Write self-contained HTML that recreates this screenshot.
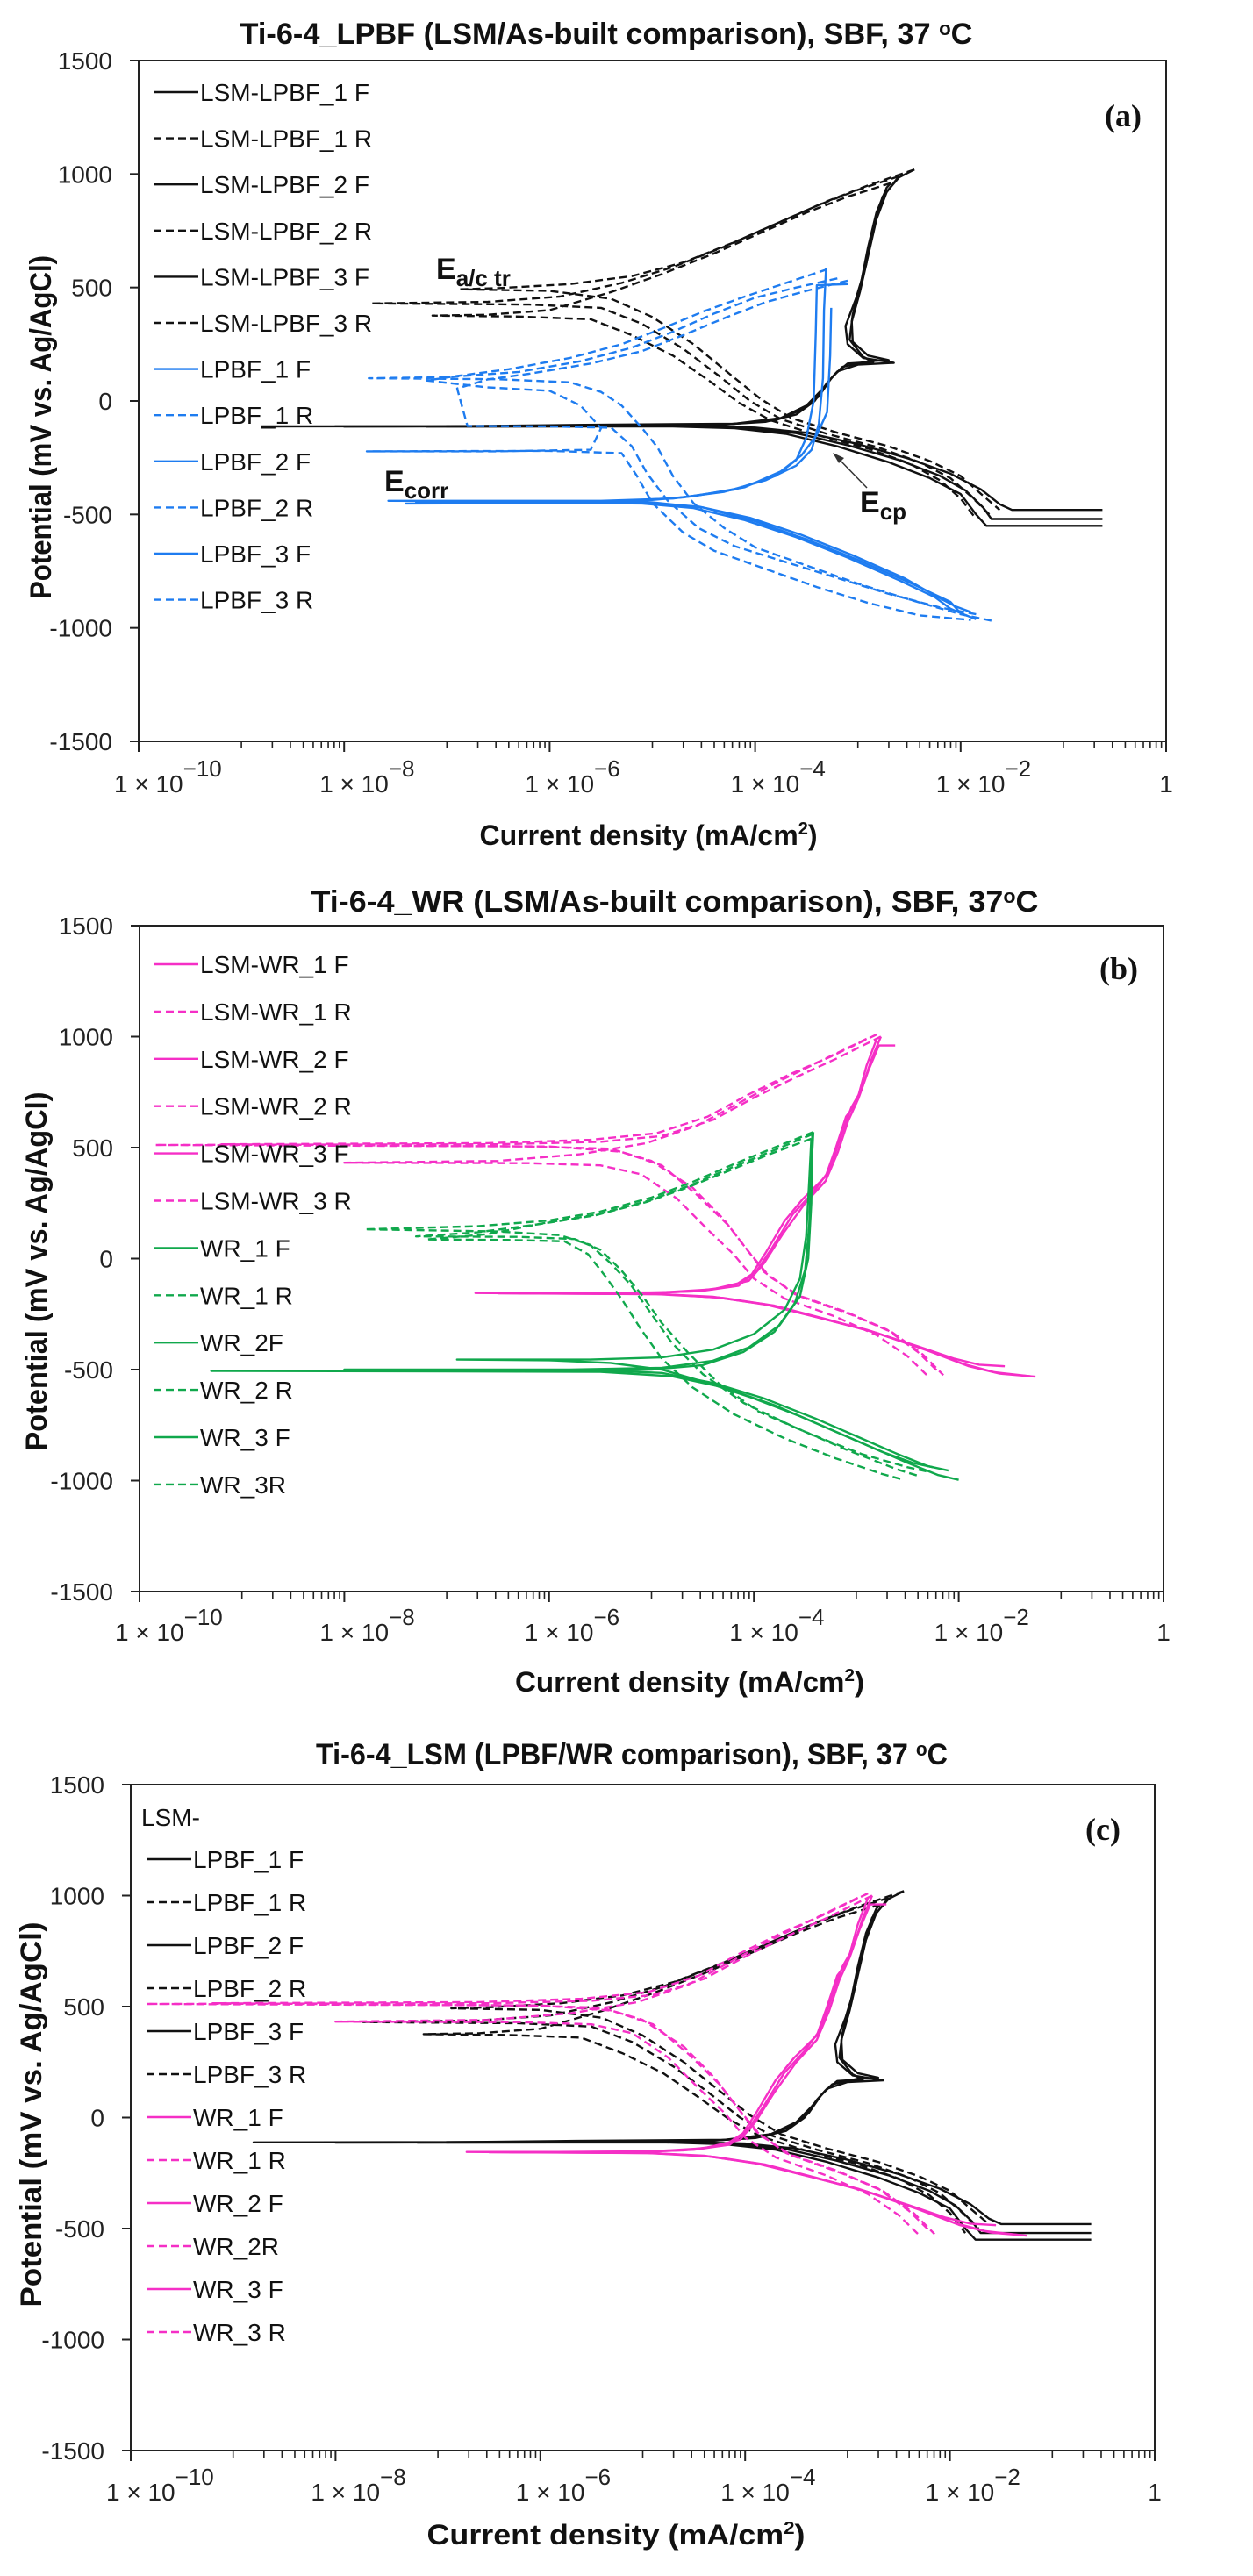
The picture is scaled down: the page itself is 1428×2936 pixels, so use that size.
<!DOCTYPE html>
<html><head><meta charset="utf-8"><title>Ti-6-4 polarization curves</title>
<style>
html,body{margin:0;padding:0;background:#fff;}
svg{display:block;font-family:"Liberation Sans",sans-serif;}
</style></head>
<body>
<svg id="fig" width="1428" height="2936" viewBox="0 0 1428 2936" xmlns="http://www.w3.org/2000/svg">
<rect width="1428" height="2936" fill="#fff"/>
</svg>
<script>
// ---------- DATA (log10 current density [mA/cm2], potential [mV]) ----------
const lsmLpbf1F=[[-0.62,-480],[-1.5,-480],[-1.62,-455],[-1.8,-390],[-2.1,-320],[-2.5,-255],[-3.0,-190],[-3.5,-140],[-4.0,-117],[-4.6,-110],[-8.8,-112],[-6.0,-110],[-4.4,-106],[-3.9,-92],[-3.6,-60],[-3.42,0],[-3.3,80],[-3.2,130],[-3.0,160],[-2.65,168],[-2.95,190],[-3.1,250],[-3.12,330],[-3.02,450],[-2.92,600],[-2.86,750],[-2.76,900],[-2.6,985],[-2.45,1020]];
const lsmLpbf2F=[[-0.62,-520],[-1.7,-520],[-1.78,-470],[-1.95,-395],[-2.2,-330],[-2.6,-260],[-3.1,-195],[-3.6,-142],[-4.1,-118],[-4.7,-111],[-8.0,-113],[-5.8,-111],[-4.3,-104],[-3.8,-85],[-3.55,-40],[-3.38,20],[-3.26,100],[-3.15,150],[-2.9,175],[-2.7,180],[-2.9,200],[-3.05,260],[-3.06,350],[-2.98,480],[-2.9,640],[-2.82,800],[-2.72,920],[-2.6,990]];
const lsmLpbf3F=[[-0.62,-550],[-1.75,-550],[-1.85,-500],[-2.0,-410],[-2.3,-340],[-2.7,-270],[-3.2,-200],[-3.7,-145],[-4.2,-120],[-4.8,-112],[-7.2,-113],[-5.66,-105],[-4.2,-100],[-3.75,-75],[-3.5,-20],[-3.35,50],[-3.22,120],[-3.1,165],[-2.85,172],[-2.95,195],[-3.08,270],[-3.05,380],[-2.97,520],[-2.9,680],[-2.82,830],[-2.72,940],[-2.68,960]];
const lsmLpbf1R=[[-2.45,1020],[-2.9,950],[-3.3,880],[-3.7,800],[-4.2,700],[-4.7,610],[-5.2,550],[-5.8,515],[-6.5,497],[-6.87,492],[-6.0,485],[-5.4,450],[-5.0,370],[-4.6,250],[-4.25,120],[-3.95,10],[-3.65,-75],[-3.2,-140],[-2.7,-200],[-2.3,-265],[-2.0,-330],[-1.8,-410],[-1.62,-480]];
const lsmLpbf2R=[[-2.6,990],[-3.0,930],[-3.4,860],[-3.8,780],[-4.3,680],[-4.8,590],[-5.3,520],[-5.9,460],[-6.6,437],[-7.73,430],[-6.2,425],[-5.5,410],[-5.1,340],[-4.7,230],[-4.35,110],[-4.05,0],[-3.75,-80],[-3.3,-145],[-2.8,-205],[-2.4,-270],[-2.1,-340],[-1.9,-420],[-1.72,-500]];
const lsmLpbf3R=[[-2.68,960],[-3.1,900],[-3.5,830],[-3.9,750],[-4.4,650],[-4.9,560],[-5.4,480],[-6.0,400],[-6.6,380],[-7.14,376],[-6.3,372],[-5.6,360],[-5.2,290],[-4.8,200],[-4.45,90],[-4.15,-10],[-3.85,-85],[-3.4,-150],[-2.9,-210],[-2.5,-275],[-2.2,-350],[-2.0,-430],[-1.85,-520]];

const lpbf1F=[[-1.85,-962],[-2.0,-935],[-2.1,-885],[-2.5,-800],[-3.0,-700],[-3.5,-610],[-4.0,-530],[-4.5,-470],[-5.0,-447],[-6.0,-441],[-7.57,-440],[-5.5,-440],[-4.8,-430],[-4.3,-400],[-3.9,-350],[-3.6,-285],[-3.45,-215],[-3.38,-100],[-3.34,100],[-3.33,400],[-3.31,585]];
const lpbf2F=[[-1.95,-945],[-2.1,-915],[-2.25,-865],[-2.6,-790],[-3.1,-690],[-3.6,-600],[-4.1,-525],[-4.6,-472],[-5.1,-452],[-6.2,-447],[-7.3,-446],[-5.4,-445],[-4.7,-425],[-4.2,-390],[-3.8,-330],[-3.6,-260],[-3.5,-160],[-3.43,0],[-3.41,300],[-3.4,510],[-3.1,515]];
const lpbf3F=[[-1.9,-930],[-2.05,-905],[-2.2,-870],[-2.55,-780],[-3.05,-680],[-3.55,-590],[-4.05,-515],[-4.55,-465],[-5.05,-450],[-6.1,-450],[-7.4,-452],[-5.3,-448],[-4.6,-420],[-4.1,-380],[-3.75,-310],[-3.55,-240],[-3.4,-150],[-3.3,-50],[-3.27,200],[-3.26,410]];
const lpbf1R=[[-3.2,540],[-3.6,500],[-4.0,455],[-4.4,385],[-4.8,305],[-5.2,235],[-5.7,175],[-6.3,128],[-7.0,105],[-7.76,100],[-6.5,96],[-5.8,82],[-5.5,40],[-5.3,-20],[-5.1,-120],[-4.95,-205],[-4.8,-330],[-4.6,-450],[-4.3,-560],[-4.0,-645],[-3.5,-725],[-3.0,-805],[-2.5,-875],[-2.0,-940],[-1.7,-968]];
const lpbf2R=[[-3.3,580],[-3.7,520],[-4.1,460],[-4.5,395],[-4.9,320],[-5.3,250],[-5.8,190],[-6.4,140],[-6.9,110],[-7.2,90],[-6.6,60],[-6.0,45],[-5.7,-20],[-5.5,-120],[-5.6,-215],[-6.5,-222],[-7.78,-222],[-6.0,-220],[-5.3,-230],[-5.15,-330],[-5.0,-450],[-4.7,-580],[-4.4,-660],[-3.9,-740],[-3.4,-820],[-2.9,-890],[-2.4,-945],[-1.9,-965]];
const lpbf3R=[[-3.1,530],[-3.5,485],[-3.9,435],[-4.3,365],[-4.7,290],[-5.1,220],[-5.6,165],[-6.2,120],[-6.6,95],[-6.9,55],[-6.8,-110],[-6.0,-112],[-5.4,-118],[-5.2,-200],[-5.05,-320],[-4.85,-440],[-4.55,-560],[-4.2,-640],[-3.7,-710],[-3.2,-780],[-2.7,-850],[-2.2,-910],[-1.85,-940]];

const lsmWr1F=[[-1.25,-532],[-1.6,-518],[-1.9,-485],[-2.3,-415],[-2.8,-335],[-3.3,-272],[-3.8,-212],[-4.3,-177],[-4.9,-160],[-6.72,-155],[-5.0,-155],[-4.5,-145],[-4.15,-122],[-3.98,-60],[-3.82,50],[-3.62,200],[-3.42,300],[-3.26,400],[-3.15,550],[-3.05,680],[-2.95,760],[-2.85,900],[-2.76,1000]];
const lsmWr2F=[[-1.55,-485],[-1.8,-478],[-2.05,-450],[-2.4,-395],[-2.9,-320],[-3.4,-262],[-3.9,-205],[-4.4,-172],[-5.0,-158],[-6.3,-156],[-4.9,-152],[-4.4,-138],[-4.05,-100],[-3.9,-20],[-3.72,110],[-3.5,250],[-3.3,350],[-3.18,480],[-3.08,620],[-2.98,720],[-2.88,850],[-2.78,960],[-2.62,960]];
const lsmWr3F=[[-1.3,-530],[-1.65,-512],[-1.95,-475],[-2.35,-405],[-2.85,-328],[-3.35,-268],[-3.85,-210],[-4.35,-175],[-4.95,-160],[-6.5,-156],[-5.1,-154],[-4.6,-148],[-4.2,-125],[-4.02,-70],[-3.88,30],[-3.7,170],[-3.52,270],[-3.3,370],[-3.2,500],[-3.1,640],[-3.0,700],[-2.9,870],[-2.8,990]];
const lsmWr1R=[[-2.76,1000],[-3.2,900],[-3.6,815],[-4.0,725],[-4.4,625],[-4.9,552],[-5.5,526],[-6.5,515],[-9.85,512],[-6.0,505],[-5.3,482],[-4.9,420],[-4.55,285],[-4.25,150],[-4.05,30],[-3.85,-80],[-3.55,-170],[-3.05,-252],[-2.65,-332],[-2.35,-432],[-2.15,-525]];
const lsmWr2R=[[-2.8,1010],[-3.25,910],[-3.65,830],[-4.05,740],[-4.45,640],[-4.95,565],[-5.6,535],[-6.6,520],[-9.2,515],[-6.2,505],[-5.4,495],[-5.0,440],[-4.6,320],[-4.3,180],[-4.1,60],[-3.9,-60],[-3.6,-160],[-3.1,-240],[-2.7,-320],[-2.4,-420],[-2.2,-510]];
const lsmWr3R=[[-2.9,990],[-3.35,890],[-3.75,800],[-4.15,700],[-4.55,600],[-5.05,520],[-5.7,470],[-6.5,440],[-8.0,432],[-6.2,430],[-5.5,420],[-5.1,380],[-4.75,270],[-4.45,130],[-4.2,20],[-4.0,-90],[-3.7,-180],[-3.2,-262],[-2.8,-345],[-2.5,-440],[-2.3,-530]];

const wr1F=[[-2.0,-997],[-2.2,-975],[-2.5,-920],[-2.9,-840],[-3.3,-760],[-3.8,-660],[-4.3,-580],[-4.8,-530],[-5.5,-510],[-9.3,-506],[-6.0,-505],[-5.0,-500],[-4.5,-480],[-4.1,-420],[-3.8,-330],[-3.6,-200],[-3.5,-50],[-3.46,150],[-3.44,400],[-3.42,570]];
const wr2F=[[-2.25,-940],[-2.45,-920],[-2.75,-870],[-3.15,-790],[-3.55,-710],[-4.0,-630],[-4.45,-560],[-4.9,-500],[-5.4,-470],[-6.0,-458],[-6.9,-455],[-5.6,-455],[-4.9,-445],[-4.4,-410],[-4.0,-340],[-3.7,-230],[-3.55,-90],[-3.49,100],[-3.46,350],[-3.44,540]];
const wr3F=[[-2.1,-955],[-2.3,-935],[-2.6,-880],[-3.0,-800],[-3.4,-720],[-3.9,-630],[-4.4,-560],[-4.9,-515],[-5.6,-502],[-8.0,-500],[-5.8,-500],[-4.9,-492],[-4.4,-460],[-4.05,-400],[-3.75,-300],[-3.55,-170],[-3.47,0],[-3.44,250],[-3.43,560]];
const wr1R=[[-3.42,570],[-3.8,500],[-4.2,425],[-4.6,345],[-5.0,275],[-5.5,212],[-6.0,172],[-6.7,146],[-7.8,132],[-6.5,122],[-5.9,106],[-5.6,62],[-5.4,-20],[-5.2,-120],[-5.0,-250],[-4.8,-380],[-4.5,-520],[-4.1,-650],[-3.6,-760],[-3.1,-860],[-2.6,-950],[-2.4,-978]];
const wr2R=[[-3.44,540],[-3.85,470],[-4.25,395],[-4.65,320],[-5.05,255],[-5.55,195],[-6.1,155],[-6.7,118],[-7.3,100],[-6.3,98],[-5.75,88],[-5.5,40],[-5.3,-50],[-5.1,-160],[-4.9,-290],[-4.65,-420],[-4.35,-560],[-3.95,-690],[-3.45,-790],[-2.95,-880],[-2.5,-940],[-2.3,-960]];
const wr3R=[[-3.43,560],[-3.82,485],[-4.22,410],[-4.62,330],[-5.02,262],[-5.52,200],[-6.05,160],[-6.6,110],[-7.2,86],[-6.4,84],[-5.85,78],[-5.62,20],[-5.45,-80],[-5.28,-190],[-5.1,-320],[-4.9,-450],[-4.6,-580],[-4.2,-700],[-3.7,-810],[-3.2,-900],[-2.75,-970],[-2.55,-995]];

const yTicks=[1500,1000,500,0,-500,-1000,-1500];
const xMajor=[-10,-8,-6,-4,-2,0];
const xMajorLabels=["−10","−8","−6","−4","−2",""];

const legendA=["LSM-LPBF_1 F","LSM-LPBF_1 R","LSM-LPBF_2 F","LSM-LPBF_2 R","LSM-LPBF_3 F","LSM-LPBF_3 R","LPBF_1 F","LPBF_1 R","LPBF_2 F","LPBF_2 R","LPBF_3 F","LPBF_3 R"];
const legendB=["LSM-WR_1 F","LSM-WR_1 R","LSM-WR_2 F","LSM-WR_2 R","LSM-WR_3 F","LSM-WR_3 R","WR_1 F","WR_1 R","WR_2F","WR_2 R","WR_3 F","WR_3R"];
const legendC=["LPBF_1 F","LPBF_1 R","LPBF_2 F","LPBF_2 R","LPBF_3 F","LPBF_3 R","WR_1 F","WR_1 R","WR_2 F","WR_2R","WR_3 F","WR_3 R"];

// ---------- DRAWING ----------
const NS="http://www.w3.org/2000/svg";
const svg=document.getElementById('fig');
const BLACK="#111", BLUE="#1e7cf0", MAG="#f52fc6", GREEN="#10a84c";
function mk(tag,attrs,parent){const e=document.createElementNS(NS,tag);for(const k in attrs)e.setAttribute(k,attrs[k]);(parent||svg).appendChild(e);return e;}

function panel(cfg){
  const g=mk('g',{});
  
  
  const X=v=>cfg.x0+(v+10)/10*(cfg.x1-cfg.x0);
  const Y=v=>cfg.yb-(v+1500)/3000*(cfg.yb-cfg.yt);
  // frame
  const fr=mk('rect',{x:cfg.x0,y:cfg.yt,width:cfg.x1-cfg.x0,height:cfg.yb-cfg.yt,fill:'none',stroke:'#222','stroke-width':2},g);
  
  
  // y ticks
  yTicks.forEach(v=>{
    mk('line',{x1:cfg.x0-10,x2:cfg.x0,y1:Y(v),y2:Y(v),stroke:'#222','stroke-width':2},g);
    const t=mk('text',{x:cfg.x0-30,y:Y(v)+10,'font-size':28,'text-anchor':'end',fill:'#222'},g);
    
    
    t.textContent=String(v);
  });
  // x ticks
  xMajor.forEach((d,i)=>{
    mk('line',{x1:X(d),x2:X(d),y1:cfg.yb,y2:cfg.yb+12,stroke:'#222','stroke-width':2},g);
    if(d<0){
      for(let k=1;k<=2;k++){ // minor ticks in following decade(s)
        for(let m=(k===1?1:2);m<=9;m++){
          const lv=d+ (k===1?(m===1?1:0):1) ;
        }
      }
      const minors=[1,Math.log10(2)+1,Math.log10(3)+1,Math.log10(4)+1,Math.log10(5)+1,Math.log10(6)+1,Math.log10(7)+1,Math.log10(8)+1,Math.log10(9)+1];
      minors.forEach(o=>mk('line',{x1:X(d+o),x2:X(d+o),y1:cfg.yb,y2:cfg.yb+8,stroke:'#222','stroke-width':1.6},g));
    }
    const t=mk('text',{x:d<0?X(d)-28:X(d),y:cfg.tickY,'font-size':28,'text-anchor':d<0?'start':'middle',fill:'#222'},g);
    
    
    if(d<0){
      t.textContent='1 × 10';
      const s=mk('tspan',{dy:-18,'font-size':26},t);s.textContent=xMajorLabels[i];
    } else t.textContent='1';
  });
  // title
  const ti=mk('text',{x:cfg.titleX,y:cfg.titleY,'font-size':34,'font-weight':'bold','text-anchor':'middle',textLength:cfg.titleW,lengthAdjust:'spacingAndGlyphs',fill:'#111'},g);
  
  
  ti.innerHTML=cfg.title;
  // axis titles
  const yt=mk('text',{x:0,y:0,'font-size':34,'font-weight':'bold','text-anchor':'middle',textLength:cfg.ytW,lengthAdjust:'spacingAndGlyphs',transform:`translate(${cfg.ytX},${cfg.ytY}) rotate(-90)`,fill:'#111'},g);
  
  
  yt.textContent='Potential (mV vs. Ag/AgCl)';
  const xt=mk('text',{x:cfg.xtX,y:cfg.xtY,'font-size':32,'font-weight':'bold','text-anchor':'middle',textLength:cfg.xtW,lengthAdjust:'spacingAndGlyphs',fill:'#111'},g);
  
  
  xt.innerHTML='Current density (mA/cm<tspan dy="-12" font-size="20">2</tspan><tspan dy="12">)</tspan>';
  // panel label
  const pl=mk('text',{x:cfg.lblX,y:cfg.lblY,'font-size':36,'font-weight':'bold','font-family':'"Liberation Serif",serif','text-anchor':'middle',fill:'#111'},g);
  
  
  pl.textContent=cfg.lbl;
  // series
  const clip='clip'+cfg.lbl.replace(/\W/g,'');
  const cp=mk('clipPath',{id:clip},g);
  mk('rect',{x:cfg.x0,y:cfg.yt,width:cfg.x1-cfg.x0,height:cfg.yb-cfg.yt},cp);
  const sg=mk('g',{'clip-path':`url(#${clip})`},g);
  cfg.series.forEach(s=>{
    const d=s.data.map((p,i)=>(i?'L':'M')+X(p[0]).toFixed(1)+' '+Y(p[1]).toFixed(1)).join(' ');
    const p=mk('path',{d:d,fill:'none',stroke:s.color,'stroke-width':2.4,'stroke-linejoin':'round','stroke-dasharray':s.dash?'9 5':'none'},sg);
    
    
  });
  // legend
  cfg.legend.forEach((lab,i)=>{
    const s=cfg.series[i];
    const y=cfg.legY+i*cfg.legStep;
    const le=mk('g',{},g);
    
    
    mk('line',{x1:cfg.legX,x2:cfg.legX+51,y1:y,y2:y,stroke:s.color,'stroke-width':2.4,'stroke-dasharray':s.dash?'9 5':'none'},le);
    const t=mk('text',{x:cfg.legX+53,y:y+10,'font-size':28,fill:'#111'},le);
    t.textContent=lab;
  });
  return {X,Y,g};
}

function mkSeries(arrs,ids,colors){return arrs.map((a,i)=>({data:a,id:ids[i],color:colors[i],dash:i%2===1}));}

const sa=mkSeries([lsmLpbf1F,lsmLpbf1R,lsmLpbf2F,lsmLpbf2R,lsmLpbf3F,lsmLpbf3R,lpbf1F,lpbf1R,lpbf2F,lpbf2R,lpbf3F,lpbf3R],
 ['lsm-lpbf-1-f','lsm-lpbf-1-r','lsm-lpbf-2-f','lsm-lpbf-2-r','lsm-lpbf-3-f','lsm-lpbf-3-r','lpbf-1-f','lpbf-1-r','lpbf-2-f','lpbf-2-r','lpbf-3-f','lpbf-3-r'],
 [BLACK,BLACK,BLACK,BLACK,BLACK,BLACK,BLUE,BLUE,BLUE,BLUE,BLUE,BLUE]);
const pa=panel({name:'panel-a-lpbf',x0:158,x1:1329,yt:69,yb:845,tickY:903,title:'Ti-6-4_LPBF (LSM/As-built comparison),  SBF, 37 <tspan dy="-10" font-size="22">o</tspan><tspan dy="10">C</tspan>',titleX:691,titleY:50,titleW:835,
 ytX:58,ytY:487,ytW:392,xtX:739,xtY:963,xtW:385,lbl:'(a)',lblX:1280,lblY:144,legX:175,legY:105,legStep:52.6,legend:legendA,series:sa});
// annotations panel a
(function(){
  const t1=mk('text',{x:497,y:318,'font-size':34,'font-weight':'bold',fill:'#111'});
  
  
  t1.innerHTML='E<tspan dy="8" font-size="26">a/c  tr</tspan>';
  const t2=mk('text',{x:438,y:560,'font-size':34,'font-weight':'bold',fill:'#111'});
  
  
  t2.innerHTML='E<tspan dy="8" font-size="26">corr</tspan>';
  const t3=mk('text',{x:980,y:584,'font-size':34,'font-weight':'bold',fill:'#111'});
  
  
  t3.innerHTML='E<tspan dy="8" font-size="26">cp</tspan>';
  const ar=mk('line',{x1:988,y1:556,x2:953,y2:520,stroke:'#333','stroke-width':1.5});
  
  
  mk('path',{d:'M949 516 L962 522 L956 528 Z',fill:'#333'});
})();

const sb=mkSeries([lsmWr1F,lsmWr1R,lsmWr2F,lsmWr2R,lsmWr3F,lsmWr3R,wr1F,wr1R,wr2F,wr2R,wr3F,wr3R],
 ['lsm-wr-1-f','lsm-wr-1-r','lsm-wr-2-f','lsm-wr-2-r','lsm-wr-3-f','lsm-wr-3-r','wr-1-f','wr-1-r','wr-2-f','wr-2-r','wr-3-f','wr-3-r'],
 [MAG,MAG,MAG,MAG,MAG,MAG,GREEN,GREEN,GREEN,GREEN,GREEN,GREEN]);
panel({name:'panel-b-wr',x0:159,x1:1326,yt:1055,yb:1814,tickY:1870,title:'Ti-6-4_WR (LSM/As-built comparison), SBF, 37<tspan dy="-10" font-size="22">o</tspan><tspan dy="10">C</tspan>',titleX:769,titleY:1039,titleW:829,
 ytX:53,ytY:1449,ytW:409,xtX:786,xtY:1928,xtW:398,lbl:'(b)',lblX:1275,lblY:1116,legX:175,legY:1099,legStep:53.9,legend:legendB,series:sb});

const sc=mkSeries([lsmLpbf1F,lsmLpbf1R,lsmLpbf2F,lsmLpbf2R,lsmLpbf3F,lsmLpbf3R,lsmWr1F,lsmWr1R,lsmWr2F,lsmWr2R,lsmWr3F,lsmWr3R],
 ['lsm-lpbf-1-f','lsm-lpbf-1-r','lsm-lpbf-2-f','lsm-lpbf-2-r','lsm-lpbf-3-f','lsm-lpbf-3-r','lsm-wr-1-f','lsm-wr-1-r','lsm-wr-2-f','lsm-wr-2-r','lsm-wr-3-f','lsm-wr-3-r'],
 [BLACK,BLACK,BLACK,BLACK,BLACK,BLACK,MAG,MAG,MAG,MAG,MAG,MAG]);
panel({name:'panel-c-lsm',x0:149,x1:1316,yt:2034,yb:2793,tickY:2850,title:'Ti-6-4_LSM (LPBF/WR comparison), SBF, 37 <tspan dy="-10" font-size="22">o</tspan><tspan dy="10">C</tspan>',titleX:720,titleY:2011,titleW:720,
 ytX:47,ytY:2410,ytW:439,xtX:702,xtY:2900,xtW:431,lbl:'(c)',lblX:1257,lblY:2097,legX:167,legY:2119,legStep:49,legend:legendC,series:sc});
(function(){
  const t=mk('text',{x:161,y:2081,'font-size':28,fill:'#111'});
  
  
  t.textContent='LSM-';
})();
</script>
</body></html>
